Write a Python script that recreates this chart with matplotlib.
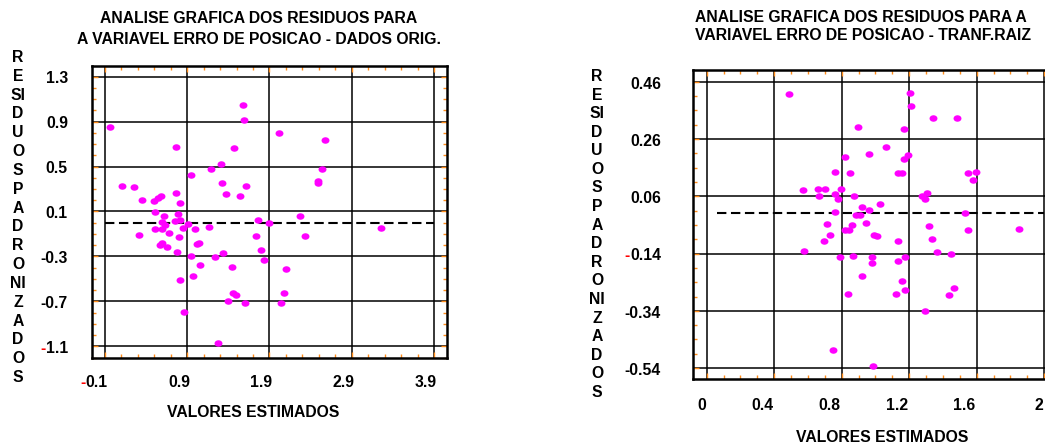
import matplotlib
matplotlib.use("Agg")
import numpy as np
import matplotlib.pyplot as plt
from matplotlib.path import Path
from matplotlib.transforms import blended_transform_factory, ScaledTranslation
from matplotlib.ticker import FixedLocator

plt.rcParams['font.family'] = ['Liberation Sans', 'DejaVu Sans']
plt.rcParams['font.weight'] = 'bold'

# ---- data: original data (left) ----
x_orig = [-0.035, 1.582, 1.586, 2.011, 2.579, 0.759, 1.472, 1.314, 1.193, 2.534,
          0.942, 2.494, 2.494, 0.103, 0.249, 1.327, 1.614, 0.354, 0.496, 0.548,
          0.581, 0.759, 1.371, 1.541, 0.816, 0.512, 0.621, 0.783, 0.589, 0.747,
          0.816, 0.913, 1.764, 1.898, 2.271, 3.26, 0.508, 0.589, 0.852, 0.998,
          1.16, 0.674, 0.309, 0.796, 1.74, 2.336, 0.565, 0.589, 0.65, 1.019,
          1.047, 0.779, 1.339, 1.797, 0.946, 1.241, 1.833, 1.055, 1.444, 2.105,
          0.966, 0.812, 1.452, 1.493, 2.072, 1.395, 1.606, 2.036, 0.865, 1.274, 0.633]
y_orig = [0.849, 1.045, 0.911, 0.799, 0.739, 0.677, 0.662, 0.52, 0.481, 0.481,
          0.422, 0.369, 0.354, 0.327, 0.321, 0.354, 0.33, 0.205, 0.193, 0.223,
          0.238, 0.268, 0.253, 0.241, 0.173, 0.093, 0.057, 0.081, 0.004, 0.016,
          0.024, -0.011, 0.027, -0.002, 0.057, -0.047, -0.053, -0.056, -0.047, -0.059,
          -0.038, -0.088, -0.112, -0.127, -0.115, -0.115, -0.198, -0.18, -0.216, -0.192,
          -0.18, -0.263, -0.272, -0.246, -0.296, -0.308, -0.329, -0.376, -0.394, -0.415,
          -0.474, -0.507, -0.628, -0.643, -0.625, -0.693, -0.711, -0.714, -0.797, -1.07, -0.02]

# ---- data: square-root transform (right) ----
x_raiz = [0.486, 1.206, 1.208, 1.344, 1.486, 0.897, 1.172, 1.065, 0.962, 0.82,
          1.192, 1.17, 0.759, 0.852, 1.136, 1.156, 1.547, 1.593, 1.577, 0.573,
          0.662, 0.7, 0.796, 0.668, 0.759, 0.781, 0.87, 1.273, 1.291, 1.306,
          1.028, 0.923, 0.96, 0.761, 1.53, 0.883, 0.911, 0.715, 0.945, 0.862,
          1.318, 0.82, 0.842, 1.549, 1.852, 0.733, 0.992, 1.008, 1.334, 0.698,
          1.132, 0.575, 1.364, 1.447, 0.791, 0.864, 0.978, 1.176, 0.98, 1.132,
          0.921, 1.158, 1.464, 1.178, 0.838, 1.121, 1.435, 1.291, 0.747, 0.986]
y_raiz = [0.416, 0.42, 0.374, 0.335, 0.335, 0.302, 0.294, 0.233, 0.209, 0.197,
          0.204, 0.19, 0.145, 0.143, 0.14, 0.142, 0.143, 0.146, 0.118, 0.083,
          0.086, 0.085, 0.085, 0.061, 0.068, 0.051, 0.061, 0.062, 0.05, 0.072,
          0.034, 0.022, 0.012, 0.006, 0.0, -0.004, -0.007, -0.036, -0.034, -0.041,
          -0.043, -0.057, -0.057, -0.057, -0.055, -0.074, -0.076, -0.077, -0.088, -0.095,
          -0.096, -0.131, -0.136, -0.143, -0.151, -0.147, -0.152, -0.151, -0.172, -0.165,
          -0.218, -0.237, -0.259, -0.266, -0.282, -0.282, -0.285, -0.342, -0.476, -0.533]

# ticks / labels
xt_orig = [-0.1, 0.9, 1.9, 2.9, 3.9]
xt_orig_lab = ['-0.1', '0.9', '1.9', '2.9', '3.9']
yt_orig = [1.3, 0.9, 0.5, 0.1, -0.3, -0.7, -1.1]
yt_orig_lab = ['1.3', '0.9', '0.5', '0.1', '-0.3', '-0.7', '-1.1']
xt_raiz = [0, 0.4, 0.8, 1.2, 1.6, 2.0]
xt_raiz_lab = ['0', '0.4', '0.8', '1.2', '1.6', '2']
yt_raiz = [0.46, 0.26, 0.06, -0.14, -0.34, -0.54]
yt_raiz_lab = ['0.46', '0.26', '0.06', '-0.14', '-0.34', '-0.54']
red_minus = ['-1.1', '-0.1', '-0.14']   # labels whose minus sign is red

dash_orig = (-0.1, 3.9)
dash_raiz = (0.06, 2.0)

titulo1 = ['ANALISE GRAFICA DOS RESIDUOS PARA', 'A VARIAVEL ERRO DE POSICAO - DADOS ORIG.']
titulo2 = ['ANALISE GRAFICA DOS RESIDUOS PARA A', 'VARIAVEL ERRO DE POSICAO - TRANF.RAIZ']
ylab = 'R\nE\nSI\nD\nU\nO\nS\nP\nA\nD\nR\nO\nNI\nZ\nA\nD\nO\nS'
xlab = 'VALORES ESTIMADOS'

FS = 11.3
W, H = 1045, 445
fig = plt.figure(figsize=(W / 100, H / 100), dpi=100)

circ = Path.unit_circle()
ell = Path(circ.vertices * [1.0, 0.78], circ.codes)
orange = '#FF8C1A'


def draw_ticklabels(ax, vals, labs, base, dx, dy, axis):
    off = ScaledTranslation(dx / 100, dy / 100, fig.dpi_scale_trans)
    tr = base + off
    for v, lab in zip(vals, labs):
        pos = (0, v) if axis == 'y' else (v, 0)
        if lab in red_minus:
            t = ax.text(pos[0], pos[1], lab[1:], transform=tr, ha='right', va='center',
                        fontsize=FS, fontweight='bold', color='black')
            ax.annotate('-', xy=(0, 0), xycoords=t, ha='right', va='bottom',
                        fontsize=FS, fontweight='bold', color='red')
        else:
            ax.text(pos[0], pos[1], lab, transform=tr, ha='right', va='center',
                    fontsize=FS, fontweight='bold', color='black')


def make(rect, x, y, xlim, ylim, xt, xl, yt, yl, xminor, yminor, dash,
         ydx, ydy, xdx, xdy):
    ax = fig.add_axes(rect)
    ax.set_xlim(*xlim)
    ax.set_ylim(*ylim)
    ax.set_axisbelow(True)
    ax.xaxis.set_major_locator(FixedLocator(xt))
    ax.yaxis.set_major_locator(FixedLocator(yt))
    ax.xaxis.set_minor_locator(FixedLocator(xminor))
    ax.yaxis.set_minor_locator(FixedLocator(yminor))
    ax.tick_params(which='both', direction='in', top=True, right=True,
                   color=orange, width=1.0, labelbottom=False, labelleft=False)
    ax.tick_params(which='major', length=4.5)
    ax.tick_params(which='minor', length=2.6)
    ax.grid(True, which='major', color='black', lw=1.1)
    for s in ax.spines.values():
        s.set_linewidth(1.8)
        s.set_color('black')
    ax.hlines(0, dash[0], dash[1], colors='black', lw=1.5,
              linestyles=(0, (4.5, 2.2)), zorder=3)
    ax.plot(x, y, linestyle='none', marker=ell, ms=4.7, color='#FF00FF',
            mec='#FF00FF', zorder=4)
    ty = blended_transform_factory(ax.transAxes, ax.transData)
    tx = blended_transform_factory(ax.transData, ax.transAxes)
    draw_ticklabels(ax, yt, yl, ty, ydx, ydy, 'y')
    draw_ticklabels(ax, xt, xl, tx, xdx, xdy, 'x')
    return ax


# left panel: pixel box 92..447 x 66..358
ax1 = make([92 / W, 1 - 358 / H, (447 - 92) / W, (358 - 66) / H],
           x_orig, y_orig, (-0.258, 4.058), (-1.204, 1.395),
           xt_orig, xt_orig_lab, yt_orig, yt_orig_lab,
           np.round(np.arange(-0.1, 4.0, 0.2), 2), np.round(np.arange(-1.2, 1.4, 0.1), 2),
           dash_orig, -24, -2, 3, -24.7)

# right panel: pixel box 692.7..1058 x 70.3..379.3 (cut by the image edge)
ax2 = make([692.7 / W, 1 - 379.3 / H, (1058.2 - 692.7) / W, (379.3 - 70.3) / H],
           x_raiz, y_raiz, (-0.083, 2.083), (-0.579, 0.50),
           xt_raiz, xt_raiz_lab, yt_raiz, yt_raiz_lab,
           np.round(np.arange(0, 2.1, 0.1), 2), np.round(np.arange(-0.54, 0.5, 0.05), 2),
           dash_raiz, -31.7, -2.3, -1, -26.4)

# titles
fig.text(259 / W, 1 - 18.3 / H, titulo1[0], ha='center', va='center', fontsize=FS, fontweight='bold')
fig.text(259 / W, 1 - 39.3 / H, titulo1[1], ha='center', va='center', fontsize=FS, fontweight='bold')
fig.text(695 / W, 1 - 17.3 / H, titulo2[0], ha='left', va='center', fontsize=FS, fontweight='bold')
fig.text(695 / W, 1 - 36.0 / H, titulo2[1], ha='left', va='center', fontsize=FS, fontweight='bold')

# vertical stacked y labels
fig.text(18 / W, 1 - 217.5 / H, ylab, ha='center', va='center', fontsize=FS,
         fontweight='bold', linespacing=1.32, multialignment='center')
fig.text(597 / W, 1 - 234.5 / H, ylab, ha='center', va='center', fontsize=FS,
         fontweight='bold', linespacing=1.30, multialignment='center')

# x labels
fig.text(253 / W, 1 - 412.7 / H, xlab, ha='center', va='center', fontsize=FS, fontweight='bold')
fig.text(882 / W, 1 - 437.7 / H, xlab, ha='center', va='center', fontsize=FS, fontweight='bold')

fig.savefig('out.png', dpi=100)
